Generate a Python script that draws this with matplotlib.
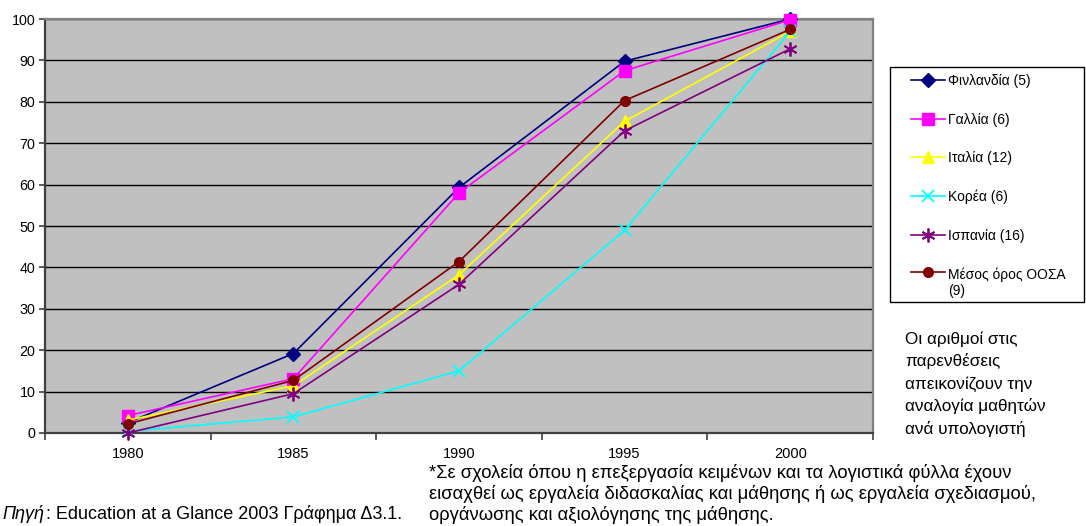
import matplotlib
matplotlib.use("Agg")
import matplotlib.pyplot as plt
from matplotlib.patches import Rectangle

plt.rcParams['font.family'] = ['Liberation Sans', 'DejaVu Sans']

years = ["1980", "1985", "1990", "1995", "2000"]
finland = [2.5, 19.2, 59.3, 89.8, 100.0]
france = [4.2, 13.1, 58.0, 87.5, 99.8]
italy = [3.1, 11.4, 38.2, 75.3, 97.0]
korea = [0.4, 3.9, 15.0, 49.0, 97.0]
spain = [0.0, 9.5, 35.9, 73.0, 92.8]
oecd = [2.2, 12.7, 41.4, 80.3, 97.5]

labels = ["Φινλανδία (5)", "Γαλλία (6)", "Ιταλία (12)", "Κορέα (6)",
          "Ισπανία (16)", "Μέσος όρος ΟΟΣΑ\n(9)"]
yticks = list(range(0, 101, 10))

W, H = 1086, 526
fig = plt.figure(figsize=(W / 100, H / 100), dpi=100)
fig.patch.set_facecolor('white')

def fx(px):
    return px / W

def fy(py):
    return 1 - py / H

ax = fig.add_axes([fx(45), fy(433), fx(873) - fx(45), fy(19) - fy(433)])
ax.set_facecolor('#C0C0C0')

xs = list(range(len(years)))
styles = [
    dict(color='#000080', marker='D', markersize=7, lw=1.2),
    dict(color='#FF00FF', marker='s', markersize=8, lw=1.2),
    dict(color='#FFFF00', marker='^', markersize=8, lw=1.2),
    dict(color='#00FFFF', marker='x', markersize=8, mew=1.3, lw=1.2),
    dict(color='#800080', marker=(6, 2, 0), markersize=10, mew=1.3, lw=1.2),
    dict(color='#800000', marker='o', markersize=7, lw=1.2),
]
series = [finland, france, italy, korea, spain, oecd]
handles = []
for vals, st, lab in zip(series, styles, labels):
    h, = ax.plot(xs, vals, label=lab, zorder=3, clip_on=False, **st)
    handles.append(h)

ax.set_xlim(-0.5, len(years) - 0.5)
ax.set_ylim(0, 100)
ax.set_yticks(yticks)
ax.set_yticklabels([str(v) for v in yticks], fontsize=10.3)
ax.yaxis.grid(True, color='black', lw=1)
ax.set_axisbelow(True)

ax.set_xticks([i - 0.5 for i in range(len(years) + 1)])
ax.set_xticklabels([])
ax.set_xticks(xs, minor=True)
ax.set_xticklabels(years, minor=True, fontsize=10.5)
ax.tick_params(axis='x', which='minor', length=0, pad=10)
ax.tick_params(axis='x', which='major', length=5, width=1.2, color='#404040', direction='out')
ax.tick_params(axis='y', length=4, width=1.2, color='#404040', direction='out', pad=3)

for side in ['left', 'bottom']:
    ax.spines[side].set_color('#404040')
    ax.spines[side].set_linewidth(1.6)
for side in ['top', 'right']:
    ax.spines[side].set_color('#808080')
    ax.spines[side].set_linewidth(1.6)

# legend box
fig.patches.append(Rectangle((fx(890), fy(302)), fx(1084) - fx(890), fy(67) - fy(302),
                             transform=fig.transFigure, fill=False, edgecolor='black', lw=1))
leg = fig.legend(handles=handles, loc='upper left',
                 bbox_to_anchor=(fx(911), fy(74)), bbox_transform=fig.transFigure,
                 frameon=False, fontsize=10, borderpad=0, borderaxespad=0,
                 handlelength=2.45, handletextpad=0.2, labelspacing=1.77,
                 markerscale=1.0)
try:
    for col in leg._legend_handle_box.get_children():
        rows = col.get_children()
        rows[-1].align = "top"
except Exception:
    pass

note_lines = ["Οι αριθμοί στις", "παρενθέσεις", "απεικονίζουν την",
              "αναλογία μαθητών", "ανά υπολογιστή"]
for i, line in enumerate(note_lines):
    fig.text(fx(905), fy(344 + 22.4 * i), line, fontsize=12.3, va='baseline', ha='left')

foot_lines = ["*Σε σχολεία όπου η επεξεργασία κειμένων και τα λογιστικά φύλλα έχουν",
              "εισαχθεί ως εργαλεία διδασκαλίας και μάθησης ή ως εργαλεία σχεδιασμού,",
              "οργάνωσης και αξιολόγησης της μάθησης."]
for i, line in enumerate(foot_lines):
    fig.text(fx(429), fy(478 + 21 * i), line, fontsize=13.2, va='baseline', ha='left')

fig.text(fx(2), fy(519), "Πηγή", fontsize=13, style='italic', va='baseline', ha='left')
fig.text(fx(46), fy(519), ": Education at a Glance 2003 Γράφημα Δ3.1.", fontsize=13,
         va='baseline', ha='left')

fig.savefig("out.png", dpi=100)
